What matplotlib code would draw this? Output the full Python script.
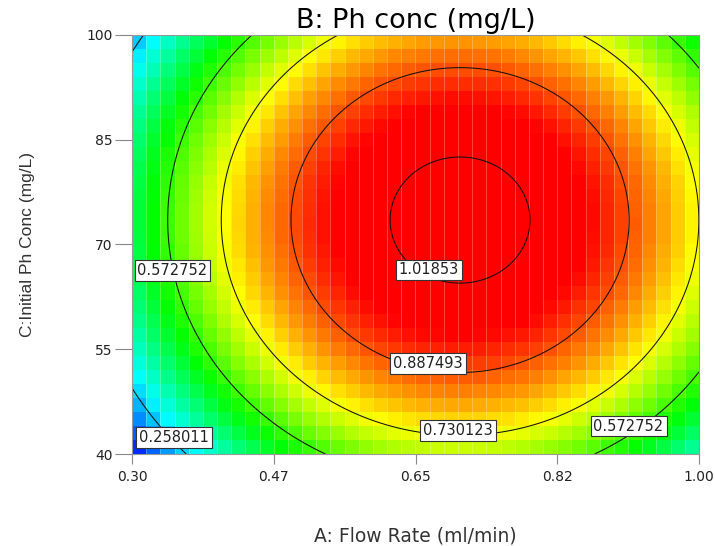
import matplotlib
matplotlib.use('Agg')
import matplotlib.pyplot as plt
import numpy as np
from matplotlib.colors import LinearSegmentedColormap

plt.rcParams['font.family'] = ['DejaVu Sans']

# design space
flow_range = [0.30, 1.00]
conc_range = [40, 100]
x_ticks = [0.30, 0.475, 0.65, 0.825, 1.00]
x_tick_labels = ['0.30', '0.47', '0.65', '0.82', '1.00']
y_ticks = [40, 55, 70, 85, 100]

# fitted quadratic response
peak_value = 1.0456
peak_flow = 0.705
peak_conc = 73.5
curv_flow = 3.63
curv_conc = 3.32e-4

levels = [0.258011, 0.572752, 0.730123, 0.887493, 1.01853]
# where each contour label sits: (level index, flow, conc)
label_spots = [(0, 0.352, 42.4), (1, 0.350, 66.25), (1, 0.913, 44.0),
               (2, 0.7025, 43.4), (3, 0.6654, 52.9), (4, 0.6667, 66.35)]

n_cols, n_rows = 40, 30


def response(a, c):
    return (peak_value - curv_flow * (a - peak_flow) ** 2
            - curv_conc * (c - peak_conc) ** 2)


cmap = LinearSegmentedColormap.from_list(
    'dx', ['#0000ff', '#00ffff', '#00ff00', '#ffff00', '#ff0000'])

fig = plt.figure(figsize=(7.15, 5.46), dpi=100)
ax = fig.add_axes([132 / 715, 92 / 546, 567 / 715, 419 / 546])

# blocky colour map, cells coloured at their centres
xe = np.linspace(*flow_range, n_cols + 1)
ye = np.linspace(*conc_range, n_rows + 1)
xc = (xe[:-1] + xe[1:]) / 2
yc = (ye[:-1] + ye[1:]) / 2
XC, YC = np.meshgrid(xc, yc)
ax.pcolormesh(xe, ye, response(XC, YC), cmap=cmap, vmin=0.086, vmax=0.957,
              shading='flat')
for x in xe[1:-1]:
    ax.axvline(x, color='white', lw=0.6, alpha=0.3)

# smooth contour lines
xf = np.linspace(*flow_range, 300)
yf = np.linspace(*conc_range, 300)
XF, YF = np.meshgrid(xf, yf)
ax.contour(XF, YF, response(XF, YF), levels=levels, colors='#111111',
           linewidths=0.75)
for i, a, c in label_spots:
    ax.text(a, c, f'{levels[i]:g}', fontsize=10.5, ha='center', va='center',
            color='#222222',
            bbox=dict(boxstyle='square,pad=0.2', fc='white', ec='#333333',
                      lw=0.8))

ax.set_xlim(*flow_range)
ax.set_ylim(*conc_range)
ax.set_xticks(x_ticks)
ax.set_xticklabels(x_tick_labels)
ax.set_yticks(y_ticks)
for side in ax.spines:
    ax.spines[side].set_color('#999999')
ax.tick_params(width=0.8, color='#888888', labelsize=10,
               labelcolor='#222222')
ax.tick_params(axis='x', length=7.5, pad=4)
ax.tick_params(axis='y', length=12, pad=2)

ax.set_title('B: Ph conc (mg/L)', fontsize=19.5, pad=5)
ax.set_xlabel('A: Flow Rate (ml/min)', fontsize=13.5, color='#333333')
ax.xaxis.set_label_coords(0.5, -0.172)
ax.set_ylabel('C:Initial Ph Conc (mg/L)', fontsize=12.5, color='#333333',
              family='Liberation Sans')
ax.yaxis.set_label_coords(-0.171, 0.5)

fig.savefig('out.png', dpi=100)
